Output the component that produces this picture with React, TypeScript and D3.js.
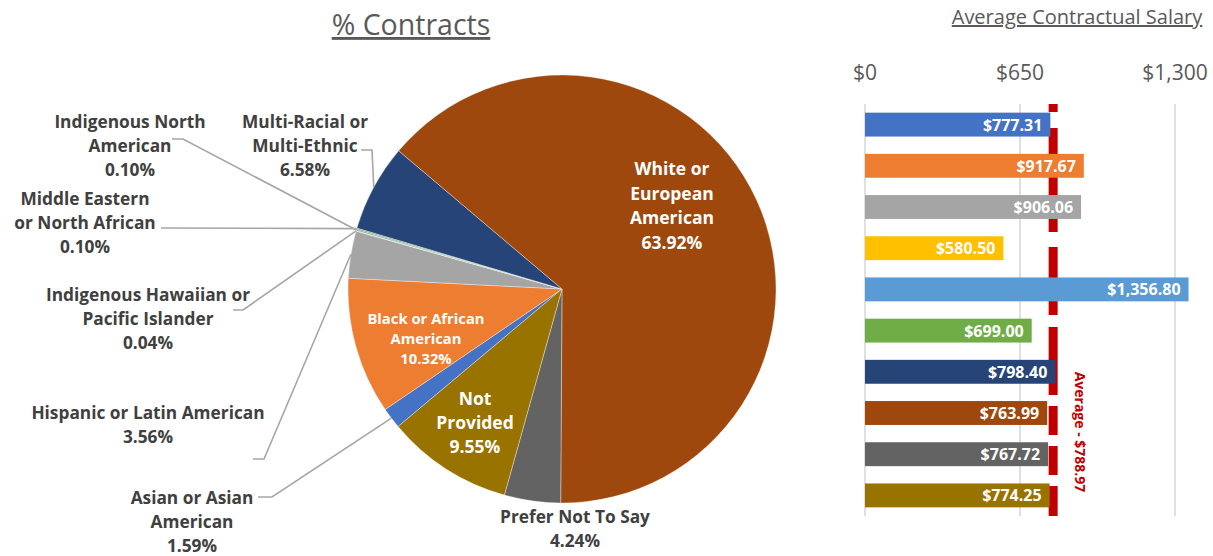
import React from 'react';
import * as d3 from 'd3';

// categories in the workbook's order (pie runs clockwise in this order)
const categories = [
  'Asian or Asian American',
  'Black or African American',
  'Hispanic or Latin American',
  'Indigenous Hawaiian or Pacific Islander',
  'Indigenous North American',
  'Middle Eastern or North African',
  'Multi-Racial or Multi-Ethnic',
  'White or European American',
  'Prefer Not To Say',
  'Not Provided',
];
const contractShare = [1.59, 10.32, 3.56, 0.04, 0.10, 0.10, 6.58, 63.92, 4.24, 9.55];
const avgSalary = [777.31, 917.67, 906.06, 580.50, 1356.80, 699.00, 798.40, 763.99, 767.72, 774.25];
const overallAverage = 788.97;
const salaryTicks = [0, 650, 1300];
const labelText = [
  ['Asian or Asian', 'American'],
  ['Black or African', 'American'],
  ['Hispanic or Latin American'],
  ['Indigenous Hawaiian or', 'Pacific Islander'],
  ['Indigenous North', 'American'],
  ['Middle Eastern', 'or North African'],
  ['Multi-Racial or', 'Multi-Ethnic'],
  ['White or', 'European', 'American'],
  ['Prefer Not To Say'],
  ['Not', 'Provided'],
];

const colors = ['#4472C4', '#ED7D31', '#A5A5A5', '#FFC000', '#5B9BD5', '#70AD47', '#264478', '#9E480E', '#636363', '#997300'];

// label placement (layout only)
type LabelPos = { x: number; y: number; size: number; inside: boolean; lh: number; elbow?: [number, number][] };
const labelPos: LabelPos[] = [
  { x: 192, y: 497, size: 17.3, lh: 24, inside: false, elbow: [[258, 497], [272, 497]] },
  { x: 426, y: 318, size: 14.8, lh: 20, inside: true },
  { x: 148, y: 412, size: 17.3, lh: 24, inside: false, elbow: [[253, 459], [264, 459]] },
  { x: 148, y: 294, size: 17.3, lh: 24, inside: false, elbow: [[233, 310], [243, 310]] },
  { x: 130, y: 121, size: 17.3, lh: 24, inside: false, elbow: [[172, 139], [183, 139]] },
  { x: 85, y: 198, size: 17.3, lh: 24, inside: false, elbow: [[161, 228]] },
  { x: 305, y: 121, size: 17.3, lh: 24, inside: false, elbow: [[361, 150], [372, 150]] },
  { x: 672, y: 168, size: 17.5, lh: 24.5, inside: true },
  { x: 575, y: 516, size: 17.3, lh: 24, inside: false },
  { x: 475, y: 398, size: 17.5, lh: 24, inside: true },
];

const FONT = '"Open Sans", Lato, sans-serif';
const TEXT_GRAY = '#404040';

export default function App() {
  const cx = 562, cy = 289, r = 214;
  const deg = Math.PI / 180;
  const pie = d3.pie<number>().sort(null).value(d => d)
    .startAngle(230 * deg).endAngle(590 * deg);
  const arcs = pie(contractShare);
  const arc = d3.arc<d3.PieArcDatum<number>>().innerRadius(0).outerRadius(r);

  const edgePoint = (a: d3.PieArcDatum<number>): [number, number] => {
    const m = (a.startAngle + a.endAngle) / 2;
    return [cx + Math.sin(m) * r, cy - Math.cos(m) * r];
  };

  // bar chart
  const x = d3.scaleLinear().domain([0, 1300]).range([865, 1175]);
  const y = d3.scaleBand<string>().domain(categories).range([104, 516]).paddingInner(0.42).paddingOuter(0.21);
  const line = d3.line();

  return (
    <svg width={1213} height={556} style={{ position: 'absolute', left: 0, top: 0, background: '#fff' }} fontFamily={FONT}>
      {/* pie title */}
      <text x={411} y={35} textAnchor="middle" fontSize={28.5} fill="#595959" textDecoration="underline">% Contracts</text>

      <g transform={`translate(${cx},${cy})`}>
        {arcs.map((a, i) => (
          <path key={i} d={arc(a) || ''} fill={colors[i]} stroke="#ffffff" strokeOpacity={0.6} strokeWidth={0.6} />
        ))}
      </g>

      {/* leader lines */}
      {arcs.map((a, i) => {
        const p = labelPos[i];
        if (p.inside || !p.elbow) return null;
        const pts: [number, number][] = [...p.elbow, edgePoint(a)];
        return <path key={i} d={line(pts) || ''} fill="none" stroke="#A6A6A6" strokeWidth={1.6} />;
      })}

      {/* pie labels */}
      {labelText.map((lines, i) => {
        const p = labelPos[i];
        const all = [...lines, `${contractShare[i].toFixed(2)}%`];
        return (
          <text key={i} textAnchor="middle" fontSize={p.size} fontWeight={700}
            fill={p.inside ? '#ffffff' : TEXT_GRAY} dominantBaseline="central">
            {all.map((t, j) => (
              <tspan key={j} x={p.x} y={p.y + j * p.lh}>{t}</tspan>
            ))}
          </text>
        );
      })}

      {/* bar title */}
      <text x={1077} y={24} textAnchor="middle" fontSize={20} fill="#595959" textDecoration="underline">Average Contractual Salary</text>

      {/* axis ticks and gridlines */}
      {salaryTicks.map(t => (
        <g key={t}>
          <text x={x(t)} y={72} textAnchor="middle" dominantBaseline="central" fontSize={21} fill="#595959">
            {d3.format('$,')(t)}
          </text>
          <line x1={x(t)} x2={x(t)} y1={104} y2={516} stroke="#D9D9D9" strokeWidth={1.6} />
        </g>
      ))}

      {/* average line behind bars */}
      <line x1={x(overallAverage)} x2={x(overallAverage)} y1={104} y2={516}
        stroke="#C00000" strokeWidth={9} strokeDasharray="8,16,104,15,68,12,68,11,29,11,29,11,30" />

      {avgSalary.map((v, i) => {
        const yy = y(categories[i]) as number;
        return (
          <g key={i}>
            <rect x={x(0)} y={yy} width={x(v) - x(0)} height={y.bandwidth()} fill={colors[i]} />
            <text x={x(v) - 8} y={yy + y.bandwidth() / 2} textAnchor="end" dominantBaseline="central"
              fontSize={16} fontWeight={700} fill="#ffffff">
              {d3.format('$,.2f')(v)}
            </text>
          </g>
        );
      })}

      <text transform={`translate(1080,432) rotate(90)`} textAnchor="middle" dominantBaseline="central"
        fontSize={14} fontWeight={700} fill="#C00000">
        {`Average - ${d3.format('$,.2f')(overallAverage)}`}
      </text>
    </svg>
  );
}
